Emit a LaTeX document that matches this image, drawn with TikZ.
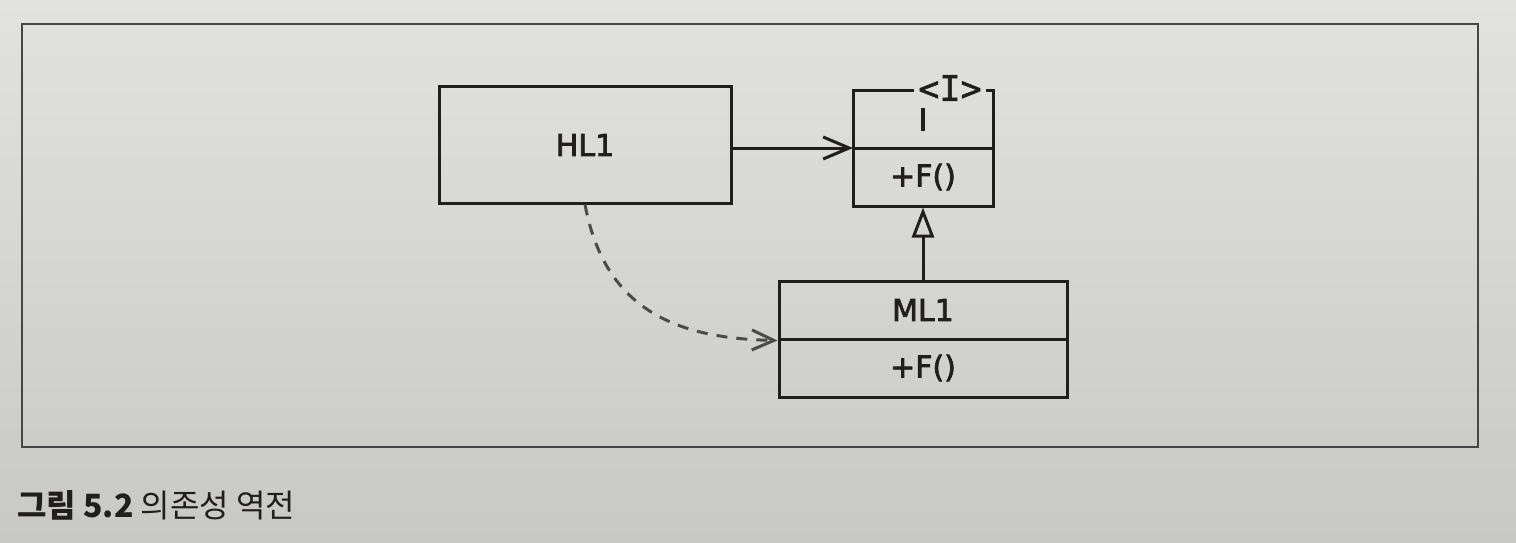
\documentclass[tikz,border=0pt]{standalone}
\usepackage{fontspec}
\setmainfont{DejaVu Sans}
\newfontfamily\boxfont{DejaVu Sans}[FakeBold=2.5]
\newfontfamily\krfont{Noto Sans CJK KR}
\newfontfamily\stereofont{DejaVu Sans Mono}[FakeBold=1.5]
\usetikzlibrary{arrows.meta}
\definecolor{papertop}{RGB}{226,226,222}
\definecolor{paperbot}{RGB}{200,200,196}
\definecolor{ink}{RGB}{33,31,29}
\definecolor{frameink}{RGB}{70,70,70}
\definecolor{dashink}{RGB}{75,75,75}
\tikzset{
  umlbox/.style={draw=ink,line width=3pt,inner sep=0pt,text=ink,
    font=\boxfont\fontsize{30}{35}\selectfont},
  umlpart/.style={umlbox,draw=none,outer sep=0pt},
  boxline/.style={draw=ink,line width=3pt},
  stereo/.style={inner xsep=4pt,inner ysep=0pt,text=ink,
    font=\stereofont\fontsize{35}{40}\selectfont},
  assoc/.style={draw=ink,line width=3pt,-{Straight Barb[length=26pt,width=22pt]}},
  gen/.style={draw=ink,line width=3pt,-{Triangle[open,length=30pt,width=22pt]}},
  dep/.style={draw=dashink,line width=3pt,dash pattern=on 11pt off 9pt,
    -{Straight Barb[length=22pt,width=20pt]}},
  caption/.style={anchor=base west,inner sep=0pt,text=ink,
    font=\krfont\fontsize{32}{38}\selectfont}
}
\begin{document}
\begin{tikzpicture}[x=1pt,y=-1pt]
\shade[top color=papertop,bottom color=paperbot] (0,0) rectangle (1516,543);
\useasboundingbox (0,0) rectangle (1516,543);
\draw[frameink,line width=1.5pt] (22,24) rectangle (1478,447);

\node[umlbox,minimum width=292pt,minimum height=116pt] (hl) at (585,145) {HL1};

\node[umlpart,minimum width=140pt,minimum height=57pt] (iname) at (923,119.5) {\raisebox{-3pt}{I}};
\node[umlbox,minimum width=140pt,minimum height=58pt] (iops) at (923,177) {+F()};
\node[stereo] (st) at (950,88) {<I>};
\draw[boxline] (st.west |- iname.north) -| (iname.south west) -- (iname.south east) |- (st.east |- iname.north);

\node[umlbox,minimum width=288pt,minimum height=58pt] (mname) at (923,310) {ML1};
\node[umlbox,minimum width=288pt,minimum height=58pt] (mops) at (923,368) {+F()};

\draw[assoc] (hl.east |- iname.south west) -- (iname.south west);
\draw[gen] (mname.north) -- (iops.south);
\draw[dep] (hl.south) .. controls +(20,107) and +(-99,-2) .. (mname.south west);

\node[caption] (cap) at (17,517) {\textbf{그림 5.2} 의존성 역전};
\end{tikzpicture}
\end{document}
